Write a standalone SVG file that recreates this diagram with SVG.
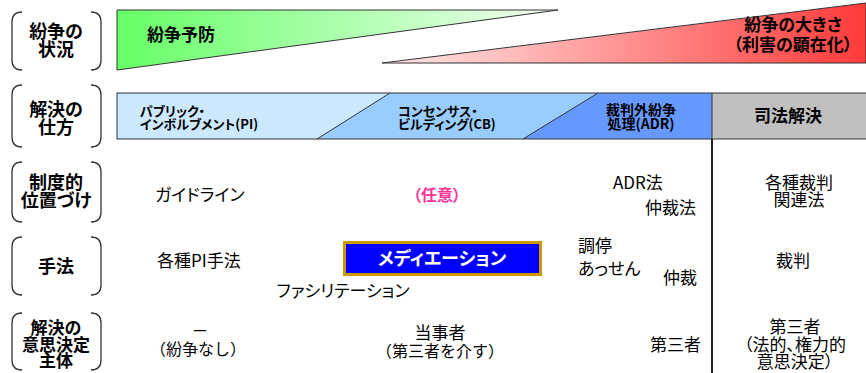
<svg xmlns="http://www.w3.org/2000/svg" width="866" height="373" viewBox="0 0 866 373">
<defs>
<linearGradient id="gGreen" x1="0" y1="0" x2="1" y2="0">
<stop offset="0" stop-color="#66ff66"/>
<stop offset="1" stop-color="#f2fff2"/>
</linearGradient>
<linearGradient id="gRed" x1="0" y1="0" x2="1" y2="0">
<stop offset="0" stop-color="#ffeaea"/>
<stop offset="1" stop-color="#ff3a3a"/>
</linearGradient>
</defs>
<style>
text{font-family:"Noto Sans CJK JP","Noto Sans",sans-serif;font-feature-settings:"palt";fill:#000}
.lab{font-size:18px;font-weight:bold;text-anchor:middle}
.hd{font-size:17px;font-weight:bold}
.bar{font-size:13px;font-weight:bold}
.t{font-size:17px}
.m{text-anchor:middle}
.fw{font-feature-settings:normal;font-size:16px}
.br{fill:none;stroke:#333;stroke-width:1.3}
.edge{stroke:#333;stroke-width:1}
</style>
<rect width="866" height="373" fill="#fff"/>

<g id="band-status">
<polygon points="117,10 558,10 117,70" fill="url(#gGreen)" class="edge"/>
<polygon points="382,63 866,3 866,63" fill="url(#gRed)" class="edge"/>
<text class="hd" x="147" y="41">紛争予防</text>
<text class="hd m" x="793" y="31">紛争の大きさ</text>
<text class="hd m" x="793" y="51">（利害の顕在化）</text>
</g>

<g id="band-method">
<polygon points="117,93 390,93 317,139 117,139" fill="#cce8ff"/>
<polygon points="390,93 598,93 523,139 317,139" fill="#99ccff"/>
<polygon points="598,93 712,93 712,139 523,139" fill="#6699ff"/>
<rect x="712" y="93" width="160" height="46" fill="#c0c0c0"/>
<rect x="117" y="93" width="760" height="46" fill="none" class="edge"/>
<line x1="317" y1="139" x2="390" y2="93" class="edge"/>
<line x1="523" y1="139" x2="598" y2="93" class="edge"/>
<line x1="712" y1="93" x2="712" y2="139" class="edge"/>
<text class="bar" x="140" y="116">パブリック・</text>
<text class="bar" x="140" y="129">インボルブメント(PI)</text>
<text class="bar" x="398" y="116">コンセンサス・</text>
<text class="bar" x="398" y="129">ビルディング(CB)</text>
<text class="bar m" x="641" y="115" style="font-size:14px">裁判外紛争</text>
<text class="bar m" x="641" y="129" style="font-size:14px">処理(ADR)</text>
<text class="hd m" x="788" y="122">司法解決</text>
</g>

<g id="label-status">
<path class="br" d="M22,12 Q12,12 12,22 V60 Q12,70 22,70 M91,12 Q101,12 101,22 V60 Q101,70 91,70"/>
<text class="lab" x="56" y="38">紛争の</text>
<text class="lab" x="56" y="56">状況</text>
</g>
<g id="label-method">
<path class="br" d="M22,85 Q12,85 12,95 V137 Q12,147 22,147 M91,85 Q101,85 101,95 V137 Q101,147 91,147"/>
<text class="lab" x="56" y="116">解決の</text>
<text class="lab" x="56" y="134">仕方</text>
</g>
<g id="label-position">
<path class="br" d="M22,162 Q12,162 12,172 V212 Q12,222 22,222 M91,162 Q101,162 101,172 V212 Q101,222 91,222"/>
<text class="lab" x="56" y="189">制度的</text>
<text class="lab" x="56" y="207">位置づけ</text>
</g>
<g id="label-technique">
<path class="br" d="M22,237 Q12,237 12,247 V285 Q12,295 22,295 M91,237 Q101,237 101,247 V285 Q101,295 91,295"/>
<text class="lab" x="56" y="273">手法</text>
</g>
<g id="label-decision">
<path class="br" d="M22,313 Q12,313 12,323 V360 Q12,370 22,370 M91,313 Q101,313 101,323 V360 Q101,370 91,370"/>
<text class="lab" x="56" y="334" style="font-size:17px">解決の</text>
<text class="lab" x="56" y="351" style="font-size:17px">意思決定</text>
<text class="lab" x="56" y="367" style="font-size:17px">主体</text>
</g>

<g id="row-position">
<text class="t" x="155" y="201">ガイドライン</text>
<text class="t m" x="437" y="201" style="font-weight:bold;fill:#ff3399;font-size:16px">（任意）</text>
<text class="t" x="613" y="189">ADR法</text>
<text class="t" x="645" y="214">仲裁法</text>
<text class="t m" x="799" y="189">各種裁判</text>
<text class="t m" x="799" y="206">関連法</text>
</g>

<g id="row-technique">
<text class="t" x="157" y="267">各種PI手法</text>
<g id="mediation">
<rect x="344.5" y="242.5" width="196" height="32" fill="#0000ff" stroke="#cc9900" stroke-width="3"/>
<text class="t m" x="442" y="265" style="fill:#fff;font-weight:bold;font-size:18px">メディエーション</text>
</g>
<text class="t m" x="343" y="297">ファシリテーション</text>
<text class="t" x="578" y="252">調停</text>
<text class="t" x="578" y="275">あっせん</text>
<text class="t" x="663" y="284">仲裁</text>
<text class="t m" x="793" y="267">裁判</text>
</g>

<g id="row-decision">
<text class="t m" x="200" y="337">－</text>
<text class="t m fw" x="198" y="355">（紛争なし）</text>
<text class="t m" x="440" y="339">当事者</text>
<text class="t m fw" x="440" y="357">（第三者を介す）</text>
<text class="t" x="650" y="351">第三者</text>
<text class="t m" x="795" y="333">第三者</text>
<text class="t m" x="795" y="351">（法的、権力的</text>
<text class="t m" x="795" y="368">意思決定）</text>
</g>

<g id="connectors">
<line x1="712" y1="139" x2="712" y2="373" stroke="#222" stroke-width="2"/>
</g>
</svg>
